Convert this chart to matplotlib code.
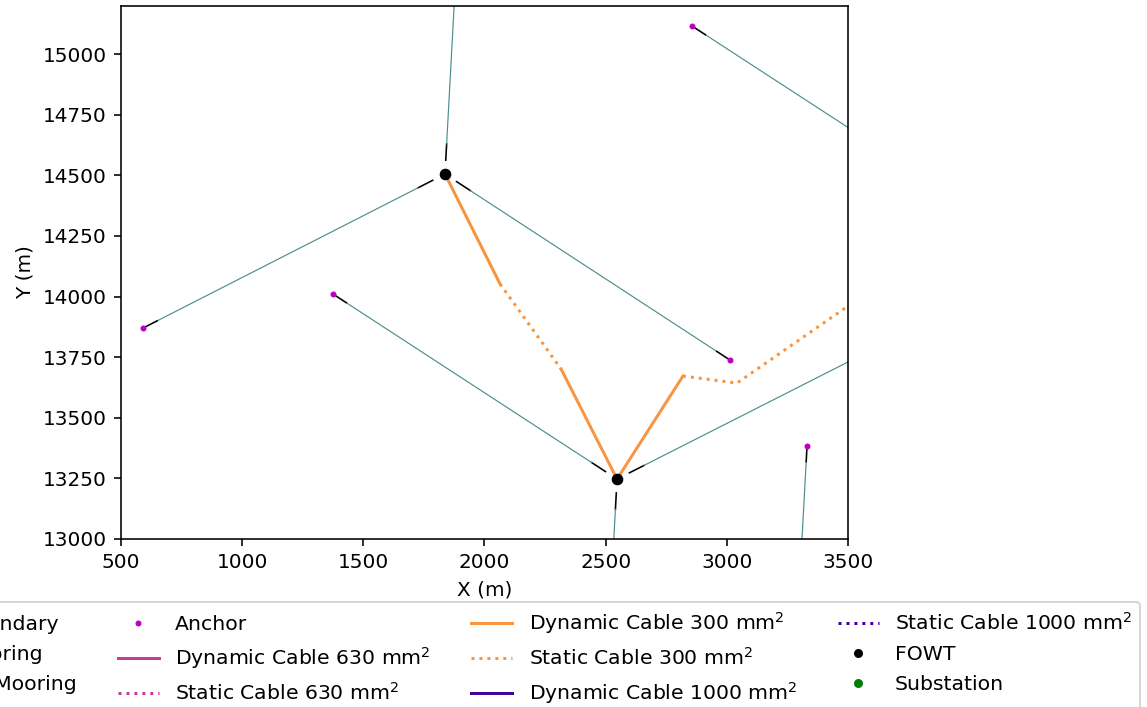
import numpy as np
import matplotlib.pyplot as plt
from matplotlib.lines import Line2D

# platform (FOWT) centres, m
fowt_x = [1837, 2547, 4031, 3255]
fowt_y = [14505, 13247, 14352, 11986]

# anchor positions, m
anchor_x = [2857, 591, 1375, 3013, 3331, 1913, 3796, 2471]
anchor_y = [15115, 13870, 14010, 13738, 13384, 15903, 13880, 11849]

# mooring lines as (fowt index, anchor index)
moorings = [(0, 1), (0, 3), (0, 5), (1, 2), (1, 6), (1, 7), (2, 0), (3, 4)]

# mooring geometry, m
fairlead_r = 57
top_chain = 68
bottom_chain = 65

# cable sections: (x list, y list, size mm2, dynamic?)
cable_sections = [
    ([1837, 2064], [14505, 14052], 300, True),
    ([2064, 2316], [14052, 13701], 300, False),
    ([2316, 2547], [13701, 13247], 300, True),
    ([2547, 2819], [13247, 13672], 300, True),
    ([2819, 3042, 3760], [13672, 13643, 14141], 300, False),
    ([3760, 4031], [14141, 14352], 300, True),
]

cable_colors = {300: "#f89540", 630: "#c43e98", 1000: "#41049d"}
mooring_color = "#4f8f8f"

fig = plt.figure(figsize=(1147 / 144, 707 / 144), dpi=144)
ax = fig.add_axes([121 / 1147, 1 - 539 / 707, 727 / 1147, 533 / 707])

for fi, ai in moorings:
    fx, fy = fowt_x[fi], fowt_y[fi]
    axx, ayy = anchor_x[ai], anchor_y[ai]
    d = np.hypot(axx - fx, ayy - fy)
    ux, uy = (axx - fx) / d, (ayy - fy) / d
    p0 = (fx + ux * fairlead_r, fy + uy * fairlead_r)
    p1 = (fx + ux * (fairlead_r + top_chain), fy + uy * (fairlead_r + top_chain))
    p2 = (axx - ux * bottom_chain, ayy - uy * bottom_chain)
    ax.plot([p0[0], p1[0]], [p0[1], p1[1]], color="k", lw=0.8, zorder=2)
    ax.plot([p1[0], p2[0]], [p1[1], p2[1]], color=mooring_color, lw=0.6, zorder=2)
    ax.plot([p2[0], axx], [p2[1], ayy], color="k", lw=0.8, zorder=2)

for xs, ys, size, dyn in cable_sections:
    ax.plot(xs, ys, color=cable_colors[size], lw=1.5, ls="-" if dyn else ":", zorder=3)

ax.plot(anchor_x, anchor_y, "o", color="m", ms=3, mec="none", zorder=4)
ax.plot(fowt_x, fowt_y, "o", color="k", ms=4.8, zorder=5)

ax.set_xlim(500, 3500)
ax.set_ylim(13000, 15198)
ax.set_xticks(np.arange(500, 3501, 500))
ax.set_yticks(np.arange(13000, 15001, 250))
ax.set_xlabel("X (m)")
ax.set_ylabel("Y (m)")

handles = [
    Line2D([], [], color="k", ls="--", lw=1),
    Line2D([], [], color=mooring_color, lw=1),
    Line2D([], [], color="tab:blue", lw=1),
    Line2D([], [], color="m", marker="o", ls="none", ms=3, mec="none"),
    Line2D([], [], color=cable_colors[630], lw=1.5),
    Line2D([], [], color=cable_colors[630], lw=1.5, ls=":"),
    Line2D([], [], color=cable_colors[300], lw=1.5),
    Line2D([], [], color=cable_colors[300], lw=1.5, ls=":"),
    Line2D([], [], color=cable_colors[1000], lw=1.5),
    Line2D([], [], color=cable_colors[1000], lw=1.5, ls=":"),
    Line2D([], [], color="k", marker="o", ls="none", ms=3.5),
    Line2D([], [], color="g", marker="o", ls="none", ms=3.5),
]
labels = [
    "Boundary", "Mooring", "Alt Mooring", "Anchor",
    "Dynamic Cable 630 mm$^2$", "Static Cable 630 mm$^2$",
    "Dynamic Cable 300 mm$^2$", "Static Cable 300 mm$^2$",
    "Dynamic Cable 1000 mm$^2$", "Static Cable 1000 mm$^2$",
    "FOWT", "Substation",
]
fig.legend(handles, labels, ncol=4, loc="upper right", fontsize=10.2,
           labelspacing=0.55,
           bbox_to_anchor=(1140 / 1147, 1 - 602 / 707), borderaxespad=0)

fig.savefig("out.png", dpi=144)
